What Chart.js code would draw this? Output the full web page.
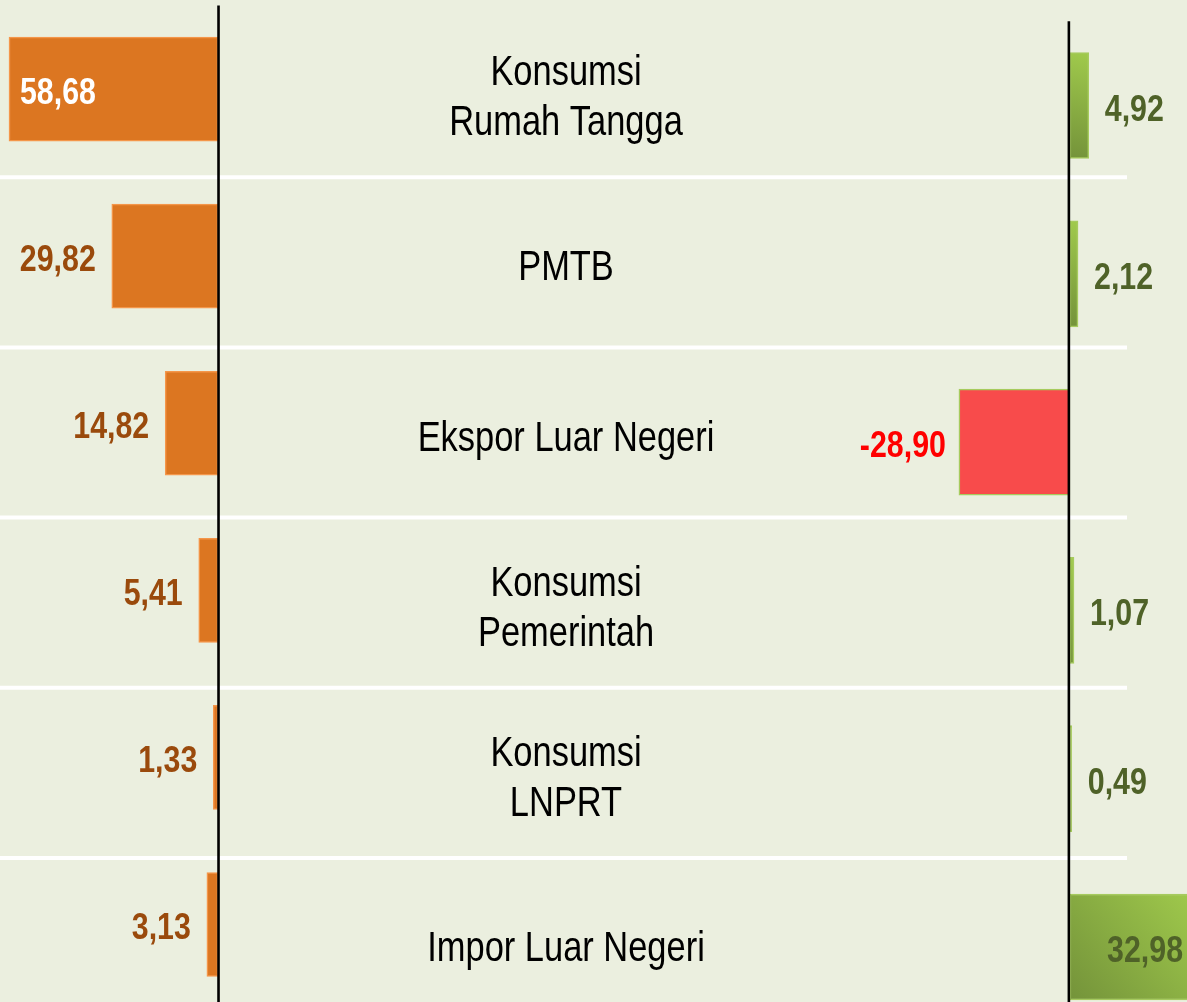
<!DOCTYPE html>
<html>
<head>
<meta charset="utf-8">
<script src="https://cdn.jsdelivr.net/npm/chart.js@4.4.1/dist/chart.umd.min.js"></script>
<style>
html,body{margin:0;padding:0;background:#EBEFDF;overflow:hidden;}
#wrap{position:relative;width:1187px;height:1002px;}
canvas{display:block;}
</style>
</head>
<body>
<div id="wrap"><canvas id="c" width="1187" height="1002"></canvas></div>
<script>
// ---- data ----
const categories = [
  ["Konsumsi", "Rumah Tangga"],
  ["PMTB"],
  ["Ekspor Luar Negeri"],
  ["Konsumsi", "Pemerintah"],
  ["Konsumsi", "LNPRT"],
  ["Impor Luar Negeri"]
];
const leftValues  = [58.68, 29.82, 14.82, 5.41, 1.33, 3.13];
const rightValues = [4.92, 2.12, -28.90, 1.07, 0.49, 32.98];

// ---- helpers ----
const fmt = v => v.toFixed(2).replace('.', ',');

function narrowAvailable() {
  const c = document.createElement('canvas').getContext('2d');
  c.font = '40px "Liberation Sans Narrow", monospace';
  const a = c.measureText('Konsumsi Rumah Tangga').width;
  c.font = '40px monospace';
  const b = c.measureText('Konsumsi Rumah Tangga').width;
  return Math.abs(a - b) > 0.5;
}
const HAS_NARROW = narrowAvailable();
const FAMILY = HAS_NARROW ? '"Liberation Sans Narrow"' : '"Liberation Sans", Arial, sans-serif';
const SX = HAS_NARROW ? 1 : 0.82;

function textWidth(ctx, txt, font) {
  ctx.save(); ctx.font = font; const w = ctx.measureText(txt).width * SX; ctx.restore(); return w;
}
function drawText(ctx, txt, x, y, font, align, color) {
  ctx.save();
  ctx.translate(x, y);
  ctx.scale(SX, 1);
  ctx.font = font;
  ctx.textAlign = align;
  ctx.textBaseline = 'alphabetic';
  ctx.fillStyle = color;
  ctx.fillText(txt, 0, 0);
  ctx.restore();
}

const VALUE_FONT = 'bold 37px ' + FAMILY;
const CAT_FONT = '42px ' + FAMILY;

// separators, axis lines and labels
const decorPlugin = {
  id: 'decor',
  beforeDatasetsDraw(chart) {
    const ctx = chart.ctx, yT = chart.scales.yT, a = chart.chartArea;
    ctx.save();
    ctx.strokeStyle = '#FFFFFF';
    ctx.lineWidth = 4;
    for (let i = 0; i < categories.length - 1; i++) {
      const y = yT.getPixelForValue(i + 0.5);
      ctx.beginPath();
      ctx.moveTo(a.left, y);
      ctx.lineTo(a.right - 60, y);
      ctx.stroke();
    }
    ctx.restore();
  },
  afterDatasetsDraw(chart) {
    const ctx = chart.ctx, s = chart.scales, a = chart.chartArea;
    // axis lines
    ctx.save();
    ctx.strokeStyle = '#000000';
    ctx.lineWidth = 2.6;
    const xl = s.xL.getPixelForValue(0) + 0.5;
    ctx.beginPath(); ctx.moveTo(xl, s.yL.getPixelForValue(-0.5)); ctx.lineTo(xl, a.bottom); ctx.stroke();
    const xr = s.xR.getPixelForValue(0) - 1;
    ctx.beginPath(); ctx.moveTo(xr, s.yR.getPixelForValue(-0.5)); ctx.lineTo(xr, a.bottom); ctx.stroke();
    ctx.restore();

    // category labels
    const labelX = 566;
    categories.forEach((lines, i) => {
      const yc = s.yT.getPixelForValue(i) + 3;
      const lh = 50;
      lines.forEach((ln, k) => {
        const y = yc + (k - (lines.length - 1) / 2) * lh + 15;
        drawText(ctx, ln, labelX, y, CAT_FONT, 'center', '#000000');
      });
    });

    // left value labels
    leftValues.forEach((v, i) => {
      const px = s.xL.getPixelForValue(v);
      const y = s.yL.getPixelForValue(i) + 2 + 13;
      const t = fmt(v);
      const w = textWidth(ctx, t, VALUE_FONT);
      if (px - 16 - w < a.left + 4) {
        drawText(ctx, t, px + 11, y, VALUE_FONT, 'left', '#FFFFFF');
      } else {
        drawText(ctx, t, px - 16, y, VALUE_FONT, 'right', '#9A4A0C');
      }
    });

    // right value labels
    rightValues.forEach((v, i) => {
      const px = s.xR.getPixelForValue(v);
      const y = s.yR.getPixelForValue(i) + 2 + 13;
      const t = fmt(v);
      const w = textWidth(ctx, t, VALUE_FONT);
      if (v < 0) {
        drawText(ctx, t, px - 13, y, VALUE_FONT, 'right', '#FF0000');
      } else if (px + 15 + w > a.right) {
        drawText(ctx, t, a.right - 4, y, VALUE_FONT, 'right', '#4F6228');
      } else {
        drawText(ctx, t, px + 16, y, VALUE_FONT, 'left', '#4F6228');
      }
    });
  }
};

function rightFill(c) {
  if (c.type !== 'data' || !c.raw) return '#8DB246';
  const v = c.raw.x;
  if (v < 0) return '#F84B4B';
  const s = c.chart.scales;
  if (!s.xR || !s.yR) return '#8DB246';
  const x0 = s.xR.getPixelForValue(0), x1 = s.xR.getPixelForValue(v);
  const yc = s.yR.getPixelForValue(c.dataIndex);
  if (![x0, x1, yc].every(Number.isFinite)) return '#8DB246';
  const g = c.chart.ctx.createLinearGradient(x0, yc + 53, x1, yc - 53);
  g.addColorStop(0, '#74933A');
  g.addColorStop(1, '#A0CA4C');
  return g;
}

const ctx = document.getElementById('c').getContext('2d');
const chart = new Chart(ctx, {
  type: 'bar',
  data: {
    datasets: [
      {
        data: leftValues.map((v, i) => ({ x: v, y: i })),
        xAxisID: 'xL', yAxisID: 'yL',
        grouped: false,
        backgroundColor: '#DC7621',
        borderColor: '#F4964A',
        borderWidth: 1.5,
        borderSkipped: false,
        barThickness: 104
      },
      {
        data: rightValues.map((v, i) => ({ x: v, y: i })),
        xAxisID: 'xR', yAxisID: 'yR',
        grouped: false,
        backgroundColor: rightFill,
        borderColor: '#A6CB5E',
        borderWidth: 1.5,
        borderSkipped: false,
        barThickness: 106
      }
    ]
  },
  options: {
    indexAxis: 'y',
    responsive: false,
    maintainAspectRatio: false,
    animation: false,
    layout: { padding: 0 },
    plugins: { legend: { display: false }, tooltip: { enabled: false } },
    scales: {
      xL: { type: 'linear', reverse: true, offset: false, min: -272, max: 61.2, display: false },
      xR: { type: 'linear', offset: false, min: -278.6, max: 30.5, display: false },
      yL: { type: 'linear', reverse: true, offset: false, min: -0.533, max: 5.464, display: false },
      yR: { type: 'linear', reverse: true, offset: false, min: -0.627, max: 5.327, display: false },
      yT: { type: 'linear', reverse: true, offset: false, min: -0.5404, max: 5.3451, display: false }
    }
  },
  plugins: [decorPlugin]
});
chart.update();
</script>
</body>
</html>
